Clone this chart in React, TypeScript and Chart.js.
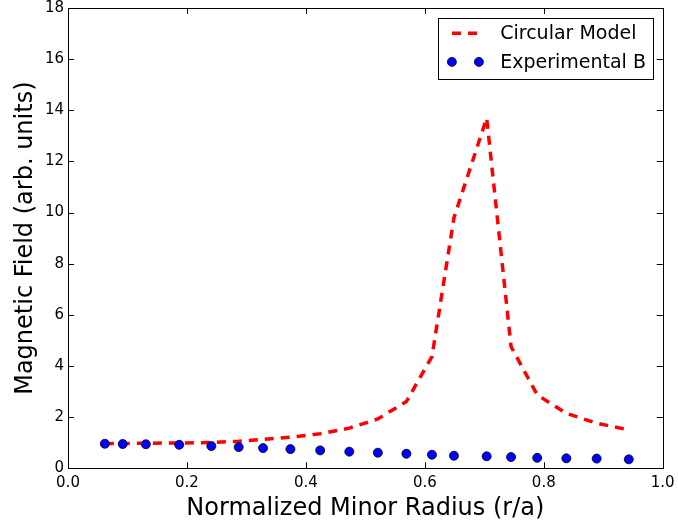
import { useEffect, useRef } from "react";
import { Chart, registerables } from "chart.js";

Chart.register(...registerables);

// Normalized minor radius positions (r/a) of the samples
const radius = [
  0.062, 0.092, 0.131, 0.187, 0.241, 0.287, 0.328, 0.374, 0.424, 0.473,
  0.521, 0.569, 0.612, 0.649, 0.704, 0.745, 0.789, 0.838, 0.889, 0.943,
];

// Circular model prediction (arb. units)
const circularModel = [
  0.96, 0.97, 0.98, 0.99, 1.01, 1.06, 1.13, 1.22, 1.35, 1.57,
  1.93, 2.61, 4.37, 9.8, 13.7, 4.76, 2.87, 2.15, 1.76, 1.5,
];

// Measured field, experiment B (arb. units)
const experimentalB = [
  0.96, 0.95, 0.94, 0.92, 0.87, 0.83, 0.79, 0.75, 0.7, 0.65,
  0.61, 0.57, 0.53, 0.49, 0.47, 0.44, 0.41, 0.39, 0.38, 0.35,
];

const xTicks = [0, 0.2, 0.4, 0.6, 0.8, 1.0];
const yTicks = [0, 2, 4, 6, 8, 10, 12, 14, 16, 18];

const FONT = '"DejaVu Sans", sans-serif';

// Axes frame with inward ticks on all four sides, plus a boxed legend
const framePlugin = {
  id: "frameAndLegend",
  afterDraw(chart: any) {
    const { ctx, chartArea } = chart;
    const { left, right, top, bottom } = chartArea;
    const xs = chart.scales.x;
    const ys = chart.scales.y;
    const tickLen = 6;

    ctx.save();
    ctx.strokeStyle = "#000";
    ctx.lineWidth = 1;
    ctx.beginPath();
    for (const v of xTicks) {
      const px = Math.round(xs.getPixelForValue(v)) + 0.5;
      ctx.moveTo(px, bottom);
      ctx.lineTo(px, bottom - tickLen);
      ctx.moveTo(px, top);
      ctx.lineTo(px, top + tickLen);
    }
    for (const v of yTicks) {
      const py = Math.round(ys.getPixelForValue(v)) + 0.5;
      ctx.moveTo(left, py);
      ctx.lineTo(left + tickLen, py);
      ctx.moveTo(right, py);
      ctx.lineTo(right - tickLen, py);
    }
    ctx.stroke();
    ctx.strokeRect(
      Math.round(left) + 0.5,
      Math.round(top) + 0.5,
      Math.round(right - left),
      Math.round(bottom - top)
    );

    // legend
    ctx.font = `19px ${FONT}`;
    const datasets = chart.data.datasets;
    const maxW = Math.max(
      ...datasets.map((d: any) => ctx.measureText(d.label).width)
    );
    const bRight = Math.round(right - 9.5) + 0.5;
    const bTop = Math.round(top + 10) + 0.5;
    const bLeft = Math.round(bRight - (62 + maxW + 7.5)) + 0.5;
    const bHeight = 61;
    ctx.fillStyle = "#fff";
    ctx.fillRect(bLeft, bTop, bRight - bLeft, bHeight);
    ctx.strokeStyle = "#000";
    ctx.lineWidth = 1;
    ctx.strokeRect(bLeft, bTop, bRight - bLeft, bHeight);

    datasets.forEach((d: any, i: number) => {
      const cy = bTop + 14.7 + i * 28.7;
      if (d.showLine) {
        ctx.save();
        ctx.strokeStyle = d.borderColor;
        ctx.lineWidth = d.borderWidth;
        ctx.setLineDash(d.borderDash || []);
        ctx.lineCap = "butt";
        ctx.beginPath();
        ctx.moveTo(bLeft + 13.5, cy);
        ctx.lineTo(bLeft + 38.5, cy);
        ctx.stroke();
        ctx.restore();
      } else {
        for (const mx of [bLeft + 13.4, bLeft + 40.4]) {
          ctx.beginPath();
          ctx.arc(mx, cy, d.pointRadius, 0, Math.PI * 2);
          ctx.fillStyle = d.backgroundColor;
          ctx.fill();
          ctx.strokeStyle = d.borderColor;
          ctx.lineWidth = d.borderWidth;
          ctx.stroke();
        }
      }
      ctx.fillStyle = "#000";
      ctx.textAlign = "left";
      ctx.textBaseline = "middle";
      ctx.fillText(d.label, bLeft + 61.7, cy + 1);
    });
    ctx.restore();
  },
};

export default function App() {
  const canvasRef = useRef<HTMLCanvasElement | null>(null);

  useEffect(() => {
    const canvas = canvasRef.current;
    if (!canvas) return;

    const chart = new Chart(canvas, {
      type: "scatter",
      data: {
        datasets: [
          {
            label: "Circular Model",
            data: radius.map((r, i) => ({ x: r, y: circularModel[i] })),
            showLine: true,
            borderColor: "#ff0000",
            backgroundColor: "#ff0000",
            borderWidth: 3.5,
            borderDash: [9, 7],
            borderCapStyle: "butt",
            pointRadius: 0,
            pointHoverRadius: 0,
            tension: 0,
            order: 2,
          },
          {
            label: "Experimental B",
            data: radius.map((r, i) => ({ x: r, y: experimentalB[i] })),
            showLine: false,
            backgroundColor: "#0000ff",
            borderColor: "#000000",
            borderWidth: 0.8,
            pointRadius: 4.5,
            pointHoverRadius: 4.5,
            order: 1,
          },
        ],
      },
      options: {
        responsive: false,
        animation: false,
        layout: { padding: { left: 0, right: 15.3, top: 8, bottom: 0 } },
        plugins: {
          legend: { display: false },
          tooltip: { enabled: false },
        },
        scales: {
          x: {
            type: "linear",
            min: 0,
            max: 1,
            afterBuildTicks: (s: any) => {
              s.ticks = xTicks.map((v) => ({ value: v }));
            },
            afterFit: (s: any) => {
              s.height = 524 - 468.3;
              s.paddingLeft = 0;
              s.paddingRight = 0;
            },
            grid: { display: false, drawTicks: false },
            border: { display: false },
            ticks: {
              color: "#000",
              padding: 7,
              maxRotation: 0,
              font: { family: FONT, size: 15, lineHeight: 1 },
              callback: (v: any) => Number(v).toFixed(1),
            },
            title: {
              display: true,
              text: "Normalized Minor Radius (r/a)",
              color: "#000",
              font: { family: FONT, size: 24, lineHeight: 1.2 },
              padding: { top: 0, bottom: 1 },
            },
          },
          y: {
            type: "linear",
            min: 0,
            max: 18,
            afterBuildTicks: (s: any) => {
              s.ticks = yTicks.map((v) => ({ value: v }));
            },
            afterFit: (s: any) => {
              s.width = 68;
              s.paddingTop = 0;
              s.paddingBottom = 0;
            },
            grid: { display: false, drawTicks: false },
            border: { display: false },
            ticks: {
              color: "#000",
              padding: 4,
              font: { family: FONT, size: 15, lineHeight: 1 },
              callback: (v: any) => String(v),
            },
            title: {
              display: true,
              text: "Magnetic Field (arb. units)",
              color: "#000",
              font: { family: FONT, size: 24, lineHeight: 1.2 },
              padding: { top: 11, bottom: 0 },
            },
          },
        },
      },
      plugins: [framePlugin],
    });

    return () => chart.destroy();
  }, []);

  return (
    <div style={{ position: "fixed", left: 0, top: 0, width: 678, height: 524, background: "#fff" }}>
      <canvas ref={canvasRef} width={678} height={524} style={{ display: "block" }} />
    </div>
  );
}
